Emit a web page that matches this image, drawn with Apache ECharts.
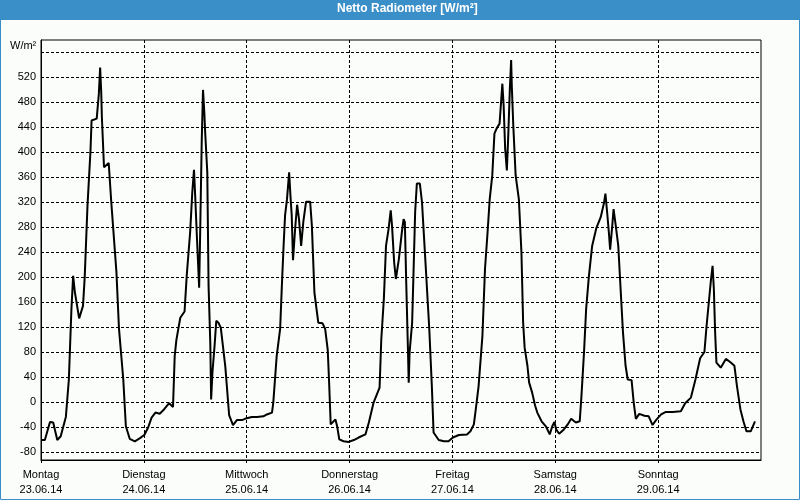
<!DOCTYPE html>
<html>
<head>
<meta charset="utf-8">
<script src="https://cdn.jsdelivr.net/npm/echarts@6/dist/echarts.min.js"></script>
<style>
html,body{margin:0;padding:0;background:#fafdfa;}
#chart{width:800px;height:500px;}
</style>
</head>
<body>
<div id="chart"></div>
<script>
// Title and axis texts
const titleText = 'Netto Radiometer [W/m²]';
const unitText = 'W/m²';
const dayNames = ['Montag', 'Dienstag', 'Mittwoch', 'Donnerstag', 'Freitag', 'Samstag', 'Sonntag'];
const dayDates = ['23.06.14', '24.06.14', '25.06.14', '26.06.14', '27.06.14', '28.06.14', '29.06.14'];
const dayStarts = [0, 24, 48, 72, 96, 120, 144];   // hours since 23.06.14 00:00
const yLabelValues = [-80, -40, 0, 40, 80, 120, 160, 200, 240, 280, 320, 360, 400, 440, 480, 520];
const yGridValues = [-80, -40, 0, 40, 80, 120, 160, 200, 240, 280, 320, 360, 400, 440, 480, 520, 560];

// Series: time (hours since start) and net radiation (W/m²)
const hours = [
  0, 0.9, 2.1, 2.85, 3.8, 4.6, 5.8, 6.5, 7.1, 7.5, 7.9, 8.9, 9.8, 10.2, 10.85, 11.55, 11.8, 13.0, 13.5, 13.8,
  14.05, 14.2, 14.7, 15.8, 16.4, 17.6, 18.2, 19.2, 19.8, 20.7, 21.9, 23.1,
  24.1, 25.0, 25.8, 26.7, 27.7, 28.7, 29.9, 30.8, 31.2, 31.6, 32.5, 33.5, 34.0, 34.8, 35.3, 35.7, 35.97, 36.4,
  36.9, 37.1, 37.5, 37.8, 38.1, 38.3, 38.8, 39.1, 39.5, 39.7, 40.0, 40.5, 40.9, 41.4, 41.95, 43.0, 43.9, 44.8, 45.7, 46.9,
  48.0, 49.2, 50.4, 51.9, 52.7, 53.9, 54.2, 55.0, 55.8, 56.2, 56.6, 56.95, 57.4, 57.9, 58.2, 58.5, 58.8, 59.3, 59.76, 60.2,
  60.7, 61.2, 61.85, 62.8, 63.2, 63.8, 64.7, 65.7, 66.3, 66.9, 67.2, 67.6, 68.7, 69.1, 69.6, 70.6, 71.8,
  73.0, 74.1, 75.7, 76.5, 77.6, 79.0, 79.4, 80.0, 80.5, 81.1, 81.6, 81.9, 82.4, 82.8, 83.5, 84.2, 84.6, 84.9, 85.2, 85.6,
  85.8, 86.0, 86.6, 86.9, 87.3, 87.7, 88.4, 88.9, 89.8, 90.6, 91.2, 91.6, 92.8, 94.0, 95.1,
  96.1, 97.5, 99.4, 100.2, 101.0, 101.5, 102.1, 103.0, 103.6, 104.2, 104.7, 105.3, 105.8, 106.3, 107.0, 107.65, 107.95, 108.3, 108.7, 109.0,
  109.4, 109.7, 109.85, 110.2, 110.75, 111.5, 112.1, 112.5, 112.85, 113.5, 113.9, 114.6, 115.3, 115.8, 116.8, 117.8, 118.7, 119.3, 119.8,
  120.2, 120.9, 122.0, 122.9, 123.7, 124.8, 125.7, 126.1, 126.7, 127.2, 127.85, 128.6, 129.6, 130.6, 131.4, 131.7, 132.1, 132.5, 132.8, 133.3,
  133.6, 134.1, 134.7, 135.2, 135.8, 136.4, 136.9, 137.8, 138.3, 138.8, 139.6, 140.8, 141.8, 142.7, 143.5,
  144.7, 145.8, 147.4, 149.3, 150.3, 151.65, 152.7, 153.8, 154.8, 155.3, 155.9, 156.3, 156.7, 157.0, 157.3, 157.6, 158.6, 159.8, 160.8, 161.8,
  162.4, 163.2, 163.9, 164.6, 165.6, 166.6
];
const values = [
  -61, -61, -32, -33, -61, -55, -24, 36, 149, 202, 176, 134, 154, 200, 315, 403, 451, 454, 494, 536,
  497, 457, 376, 383, 320, 208, 117, 36, -39, -59, -63, -58,
  -53, -41, -25, -17, -19, -12, -2, -8, 74, 100, 135, 145, 202, 272, 336, 372, 331, 261,
  183, 256, 416, 500, 465, 433, 368, 186, 95, 4, 47, 90, 130, 127, 119, 57, -21, -37, -29, -29,
  -26, -24, -24, -23, -20, -17, -1, 74, 117, 186, 250, 299, 325, 368, 331, 299, 227, 278, 316, 293,
  250, 288, 321, 321, 283, 175, 127, 126, 117, 84, 36, -36, -28, -39, -60, -63, -64,
  -61, -57, -52, -33, -1, 23, 100, 165, 250, 277, 307, 283, 224, 197, 229, 272, 293, 288, 197, 90,
  31, 79, 127, 202, 304, 350, 350, 320, 213, 117, 25, -49, -61, -63, -63,
  -57, -53, -52, -47, -36, -9, 25, 106, 213, 272, 325, 363, 430, 438, 446, 510, 475, 406, 371, 422,
  502, 548, 507, 443, 363, 325, 240, 127, 87, 58, 31, 15, -6, -17, -31, -39, -52, -39, -32,
  -44, -51, -44, -36, -27, -33, -31, 9, 79, 149, 202, 250, 279, 296, 320, 334, 304, 272, 244, 283,
  309, 283, 250, 186, 111, 58, 36, 35, -1, -27, -19, -22, -23, -37, -29,
  -20, -16, -16, -15, -2, 7, 36, 70, 80, 122, 165, 194, 218, 181, 111, 63, 55, 69, 64, 58,
  25, -12, -31, -47, -47, -31
];

const seriesData = hours.map((h, i) => [h, values[i]]);

const chart = echarts.init(document.getElementById('chart'), null, {renderer: 'canvas'});
const fontFamily = '"Liberation Sans", Arial, sans-serif';
const blue = '#3b8fc8';

chart.setOption({
  animation: false,
  backgroundColor: '#fafdfa',
  title: {
    text: titleText,
    left: 337,
    top: 3,
    padding: 0,
    textStyle: {color: '#ffffff', fontSize: 12, fontWeight: 'bold', fontFamily: fontFamily}
  },
  graphic: [
    {type: 'rect', z: -10, shape: {x: 0, y: 0, width: 800, height: 20}, style: {fill: blue}},
    {type: 'rect', z: 100, shape: {x: 0.5, y: 0.5, width: 799, height: 499}, style: {fill: null, stroke: blue, lineWidth: 1}},
    {type: 'text', left: 10, top: 40, style: {text: unitText, fill: '#000', font: '11px ' + fontFamily}}
  ],
  grid: {
    left: 41, right: 39, top: 40, bottom: 40,
    show: true, borderColor: '#000', borderWidth: 1, backgroundColor: 'transparent',
    containLabel: false
  },
  xAxis: {
    type: 'value',
    min: 0, max: 168,
    axisLine: {show: true, onZero: false, lineStyle: {color: '#000', width: 1}},
    axisTick: {show: true, length: 3, customValues: dayStarts, lineStyle: {color: '#000'}},
    splitLine: {show: true, lineStyle: {color: '#000', type: [3, 2], width: 1}},
    axisLabel: {
      customValues: dayStarts,
      margin: 7,
      color: '#000',
      fontSize: 11,
      fontFamily: fontFamily,
      lineHeight: 15,
      formatter: function (v) {
        const i = dayStarts.indexOf(v);
        return i >= 0 ? dayNames[i] + '\n' + dayDates[i] : '';
      }
    }
  },
  yAxis: {
    type: 'value',
    min: -93, max: 580,
    axisLine: {show: true, onZero: false, lineStyle: {color: '#000', width: 1}},
    axisTick: {show: false, customValues: yGridValues},
    splitLine: {show: true, lineStyle: {color: '#000', type: [3, 2], width: 1}},
    axisLabel: {
      customValues: yLabelValues,
      margin: 5,
      color: '#000',
      fontSize: 11,
      fontFamily: fontFamily
    }
  },
  series: [{
    type: 'line',
    data: seriesData,
    showSymbol: false,
    symbol: 'none',
    lineStyle: {color: '#000', width: 2},
    z: 5
  }]
});
</script>
</body>
</html>
